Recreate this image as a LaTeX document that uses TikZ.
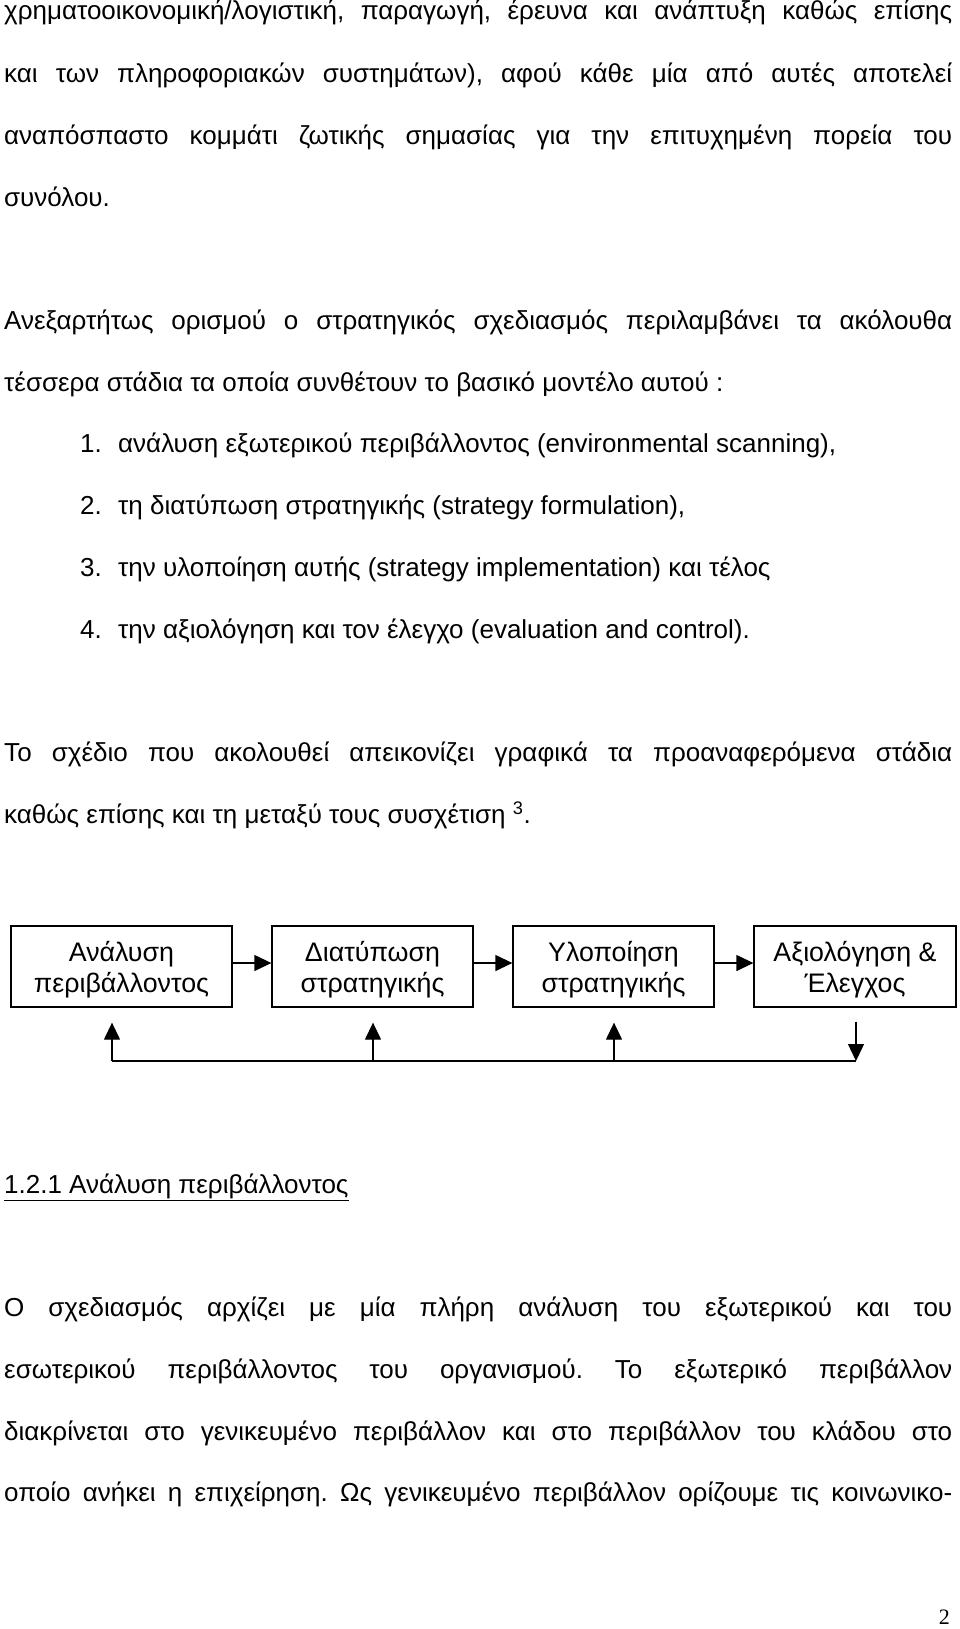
\documentclass[tikz,border=0pt]{standalone}
\usepackage{fontspec}
\setmainfont{Liberation Sans}
\newfontfamily\pgnumfont{Liberation Serif}
\usetikzlibrary{arrows.meta,calc}
\frenchspacing
\newcommand\bdfont{\fontsize{26pt}{30pt}\selectfont}
\newcommand\bxfont{\fontsize{26.8pt}{31pt}\selectfont}
\newcommand\jline[1]{\makebox[948pt][s]{#1}}
\newcommand\bxstrut{\rule{0pt}{26pt}}
\begin{document}
\begin{tikzpicture}[x=1pt,y=-1pt,
  txt/.style={anchor=base west, inner sep=0pt, font=\bdfont},
  stagebox/.style={draw, line width=1.3pt, inner sep=0pt, minimum height=81pt, align=center, font=\bxfont},
  conn/.style={line width=1.3pt},
  arr/.style={line width=1.3pt, -{Triangle[length=17pt,width=16pt]}}]
\fill[white] (0,0) rectangle (960,1629);
\useasboundingbox (0,0) rectangle (960,1629);

% paragraph 1
\node[txt] (t1) at (4,20) {\jline{χρηματοοικονομική/λογιστική, παραγωγή, έρευνα και ανάπτυξη καθώς επίσης}};
\node[txt] (t2) at (4,82.7) {\jline{και των πληροφοριακών συστημάτων), αφού κάθε μία από αυτές αποτελεί}};
\node[txt] (t3) at (4,144.4) {\jline{αναπόσπαστο κομμάτι ζωτικής σημασίας για την επιτυχημένη πορεία του}};
\node[txt] (t4) at (4,206.1) {συνόλου.};

% paragraph 2
\node[txt] (t5) at (4,329.5) {\jline{Ανεξαρτήτως ορισμού ο στρατηγικός σχεδιασμός περιλαμβάνει τα ακόλουθα}};
\node[txt] (t6) at (4,391.2) {τέσσερα στάδια τα οποία συνθέτουν το βασικό μοντέλο αυτού :};

% list
\node[txt] (n1) at (80,452.9) {1.};
\node[txt] (i1) at (118,452.9) {ανάλυση εξωτερικού περιβάλλοντος (environmental scanning),};
\node[txt] (n2) at (80,514.6) {2.};
\node[txt] (i2) at (118,514.6) {τη διατύπωση στρατηγικής (strategy formulation),};
\node[txt] (n3) at (80,576.3) {3.};
\node[txt] (i3) at (118,576.3) {την υλοποίηση αυτής (strategy implementation) και τέλος};
\node[txt] (n4) at (80,638) {4.};
\node[txt] (i4) at (118,638) {την αξιολόγηση και τον έλεγχο (evaluation and control).};

% paragraph 3
\node[txt] (t12) at (4,761.4) {\jline{Το σχέδιο που ακολουθεί απεικονίζει γραφικά τα προαναφερόμενα στάδια}};
\node[txt] (t13) at (4,823.1) {καθώς επίσης και τη μεταξύ τους συσχέτιση \textsuperscript{3}.};

% diagram
\node[stagebox, minimum width=221pt] (b1) at (121.5,966.5) {\bxstrut Ανάλυση\\περιβάλλοντος};
\node[stagebox, minimum width=201pt] (b2) at (372.5,966.5) {\bxstrut Διατύπωση\\στρατηγικής};
\node[stagebox, minimum width=201pt] (b3) at (613.5,966.5) {\bxstrut Υλοποίηση\\στρατηγικής};
\node[stagebox, minimum width=202pt] (b4) at (855,966.5) {\bxstrut Αξιολόγηση \&\\Έλεγχος};

\draw[arr] ([yshift=3.5pt]b1.east) -- ([yshift=3.5pt]b2.west);
\draw[arr] ([yshift=3.5pt]b2.east) -- ([yshift=3.5pt]b3.west);
\draw[arr] ([yshift=3.5pt]b3.east) -- ([yshift=3.5pt]b4.west);

\coordinate (c1) at (112,1061);
\coordinate (c2) at (373,1061);
\coordinate (c3) at (614,1061);
\coordinate (c4) at (856,1061);
\draw[conn] (c1) -- (c4);
\draw[arr] (c1) -- ($(c1 |- b1.south)+(0,15)$);
\draw[arr] (c2) -- ($(c2 |- b2.south)+(0,15)$);
\draw[arr] (c3) -- ($(c3 |- b3.south)+(0,15)$);
\draw[arr] ($(c4 |- b4.south)+(0,14)$) -- (c4);

% heading
\node[txt] (h) at (4,1193.3) {\underline{1.2.1 Ανάλυση περιβάλλοντος}};

% paragraph 4
\node[txt] (t21) at (4,1316.7) {\jline{Ο σχεδιασμός αρχίζει με μία πλήρη ανάλυση του εξωτερικού και του}};
\node[txt] (t22) at (4,1378.4) {\jline{εσωτερικού περιβάλλοντος του οργανισμού. Το εξωτερικό περιβάλλον}};
\node[txt] (t23) at (4,1440.1) {\jline{διακρίνεται στο γενικευμένο περιβάλλον και στο περιβάλλον του κλάδου στο}};
\node[txt] (t24) at (4,1501.8) {\jline{οποίο ανήκει η επιχείρηση. Ως γενικευμένο περιβάλλον ορίζουμε τις κοινωνικο-}};

% page number
\node[anchor=base east, inner sep=0pt, font=\pgnumfont\fontsize{22pt}{24pt}\selectfont] (pg) at (950,1624) {2};
\end{tikzpicture}
\end{document}
